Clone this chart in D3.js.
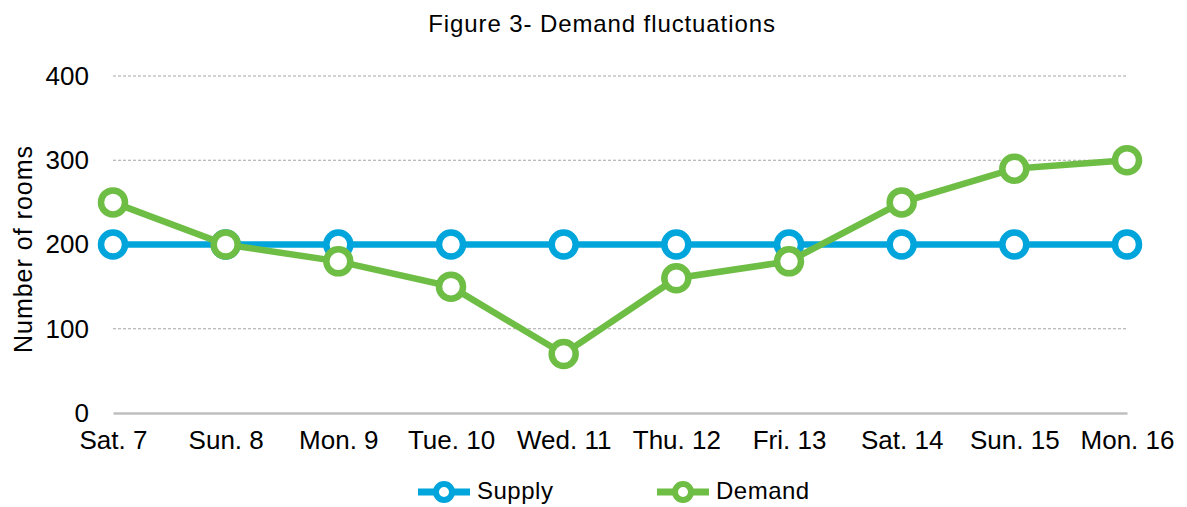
<!DOCTYPE html>
<html>
<head>
<meta charset="utf-8">
<script src="https://cdn.jsdelivr.net/npm/d3@7"></script>
<style>
  body { margin: 0; background: #fff; }
  text { font-family: "Liberation Sans", Arial, sans-serif; fill: #000; }
</style>
</head>
<body>
<div id="chart"></div>
<script>
// chart data
var days = ["Sat. 7", "Sun. 8", "Mon. 9", "Tue. 10", "Wed. 11", "Thu. 12", "Fri. 13", "Sat. 14", "Sun. 15", "Mon. 16"];
var supply = [200, 200, 200, 200, 200, 200, 200, 200, 200, 200];
var demand = [250, 200, 180, 150, 70, 160, 180, 250, 290, 300];
var yTicks = [0, 100, 200, 300, 400];

var series = [
  {name: "Supply", values: supply, color: "#00A5DB"},
  {name: "Demand", values: demand, color: "#6EBD44"}
];

var width = 1187, height = 507;

var svg = d3.select("#chart").append("svg")
  .attr("width", width)
  .attr("height", height);

var x = d3.scalePoint()
  .domain(days)
  .range([113, 1127]);

var y = d3.scaleLinear()
  .domain([0, 400])
  .range([413, 76]);

// title
svg.append("text")
  .attr("x", 602)
  .attr("y", 32)
  .attr("text-anchor", "middle")
  .style("font-size", "24px")
  .style("letter-spacing", "0.9px")
  .text("Figure 3- Demand fluctuations");

// gridlines
svg.append("g").selectAll("line.grid")
  .data(yTicks.filter(function(d) { return d > 0; }))
  .enter().append("line")
  .attr("class", "grid")
  .attr("x1", 113)
  .attr("x2", 1127)
  .attr("y1", function(d) { return y(d); })
  .attr("y2", function(d) { return y(d); })
  .attr("stroke", "#a6a6a6")
  .attr("stroke-width", 1)
  .attr("stroke-dasharray", "3,2");

// y axis labels
var yAxis = svg.append("g")
  .attr("transform", "translate(89,0)")
  .call(d3.axisLeft(y).tickValues(yTicks).tickSize(0).tickPadding(0));
yAxis.select(".domain").remove();
yAxis.selectAll("text")
  .style("font-size", "26px")
  .style("font-family", "Liberation Sans, Arial, sans-serif")
  .attr("fill", "#000");

// x axis line and labels
var xAxis = svg.append("g")
  .attr("transform", "translate(0,413)")
  .call(d3.axisBottom(x).tickSize(0).tickPadding(18));
xAxis.select(".domain")
  .attr("stroke", "#bfbfbf")
  .attr("stroke-width", 2.5);
xAxis.selectAll("text")
  .style("font-size", "26px")
  .style("font-family", "Liberation Sans, Arial, sans-serif")
  .attr("fill", "#000");

// y axis title
svg.append("text")
  .attr("transform", "translate(32,249) rotate(-90)")
  .attr("text-anchor", "middle")
  .style("font-size", "25px")
  .style("letter-spacing", "1px")
  .text("Number of rooms");

var line = d3.line()
  .x(function(d, i) { return x(days[i]); })
  .y(function(d) { return y(d); });

var chart = svg.append("g");

series.forEach(function(s) {
  chart.append("path")
    .datum(s.values)
    .attr("d", line)
    .attr("fill", "none")
    .attr("stroke", s.color)
    .attr("stroke-width", 6.5);

  chart.selectAll("circle." + s.name)
    .data(s.values)
    .enter().append("circle")
    .attr("class", s.name)
    .attr("cx", function(d, i) { return x(days[i]); })
    .attr("cy", function(d) { return y(d); })
    .attr("r", 12)
    .attr("fill", "#fff")
    .attr("stroke", s.color)
    .attr("stroke-width", 6.5);
});

// legend
var legend = svg.append("g")
  .selectAll("g.legend")
  .data(series)
  .enter().append("g")
  .attr("class", "legend")
  .attr("transform", function(d, i) { return "translate(" + (418 + i * 239) + ",492)"; });

legend.append("line")
  .attr("x1", 0)
  .attr("x2", 52)
  .attr("stroke", function(d) { return d.color; })
  .attr("stroke-width", 7);

legend.append("circle")
  .attr("cx", 26)
  .attr("r", 8)
  .attr("fill", "#fff")
  .attr("stroke", function(d) { return d.color; })
  .attr("stroke-width", 6);

legend.append("text")
  .attr("x", 59)
  .attr("y", 7)
  .style("font-size", "24px")
  .style("letter-spacing", "0.5px")
  .text(function(d) { return d.name; });
</script>
</body>
</html>
